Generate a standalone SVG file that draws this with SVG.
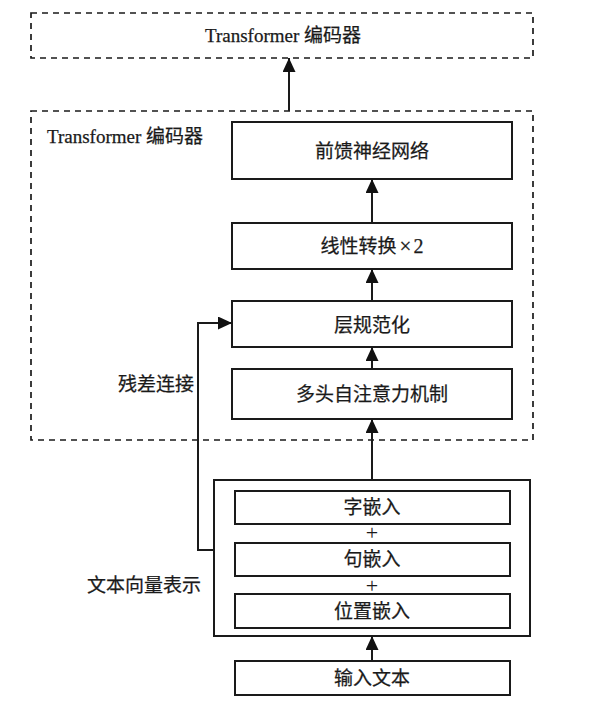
<svg xmlns="http://www.w3.org/2000/svg" width="590" height="706" viewBox="0 0 590 706">
<style>
.box{fill:#fff;stroke:#1a1a1a;stroke-width:2}
.dash{fill:none;stroke:#1a1a1a;stroke-width:1.7;stroke-dasharray:6 5}
.t{font-family:"Liberation Serif","Noto Sans CJK SC",serif;font-size:19px;fill:#1a1a1a;text-anchor:middle;stroke:#1a1a1a;stroke-width:0.25}
.l{font-family:"Liberation Serif","Noto Sans CJK SC",serif;font-size:19px;fill:#1a1a1a;stroke:#1a1a1a;stroke-width:0.25}
.p{font-family:"Liberation Serif",serif;font-size:22px;fill:#1a1a1a;text-anchor:middle}
.c{fill:none;stroke:#1a1a1a;stroke-width:2}
</style>
<defs>
<marker id="ah" markerUnits="userSpaceOnUse" markerWidth="14" markerHeight="13" refX="14" refY="6.5" orient="auto">
<path d="M0,0 L14,6.5 L0,13 z" fill="#111"/>
</marker>
</defs>
<rect width="590" height="706" fill="#fff"/>
<g id="encoder-top">
<rect class="dash" x="31" y="13" width="502" height="45"/>
<text class="t" x="283" y="42">Transformer 编码器</text>
</g>
<g id="encoder">
<rect class="dash" x="31" y="111" width="502" height="329"/>
<text class="l" x="47" y="143">Transformer 编码器</text>
</g>
<g id="ffn">
<rect class="box" x="232" y="122" width="280" height="57"/>
<text class="t" x="372" y="158">前馈神经网络</text>
</g>
<g id="linear">
<rect class="box" x="232" y="223" width="280" height="46"/>
<text class="t" x="372" y="253">线性转换<tspan dx="3" font-size="21">×</tspan><tspan dx="2" font-size="20">2</tspan></text>
</g>
<g id="layernorm">
<rect class="box" x="232" y="301" width="280" height="46"/>
<text class="t" x="372" y="332">层规范化</text>
</g>
<g id="mhsa">
<rect class="box" x="232" y="369" width="280" height="50"/>
<text class="t" x="372" y="401">多头自注意力机制</text>
</g>
<g id="embedding">
<rect class="box" x="214" y="480" width="316" height="156"/>
<text class="l" x="87" y="592">文本向量表示</text>
</g>
<g id="token-emb">
<rect class="box" x="235" y="491" width="275" height="33"/>
<text class="t" x="372" y="514">字嵌入</text>
</g>
<g id="plus1"><text class="p" x="372" y="540">+</text></g>
<g id="seg-emb">
<rect class="box" x="235" y="543" width="275" height="33"/>
<text class="t" x="372" y="566">句嵌入</text>
</g>
<g id="plus2"><text class="p" x="372" y="593">+</text></g>
<g id="pos-emb">
<rect class="box" x="235" y="594" width="275" height="34"/>
<text class="t" x="372" y="618">位置嵌入</text>
</g>
<g id="input">
<rect class="box" x="235" y="661" width="275" height="34"/>
<text class="t" x="372" y="685">输入文本</text>
</g>
<g id="residual-label">
<text class="l" x="194" y="391" text-anchor="end">残差连接</text>
</g>
<g id="connectors">
<line class="c" x1="289" y1="111" x2="289" y2="58" marker-end="url(#ah)"/>
<line class="c" x1="372" y1="223" x2="372" y2="179" marker-end="url(#ah)"/>
<line class="c" x1="372" y1="301" x2="372" y2="269" marker-end="url(#ah)"/>
<line class="c" x1="372" y1="369" x2="372" y2="347" marker-end="url(#ah)"/>
<line class="c" x1="372" y1="480" x2="372" y2="419" marker-end="url(#ah)"/>
<line class="c" x1="372" y1="661" x2="372" y2="636" marker-end="url(#ah)"/>
<polyline class="c" points="214,550 198,550 198,323 232,323" marker-end="url(#ah)"/>
</g>
</svg>
